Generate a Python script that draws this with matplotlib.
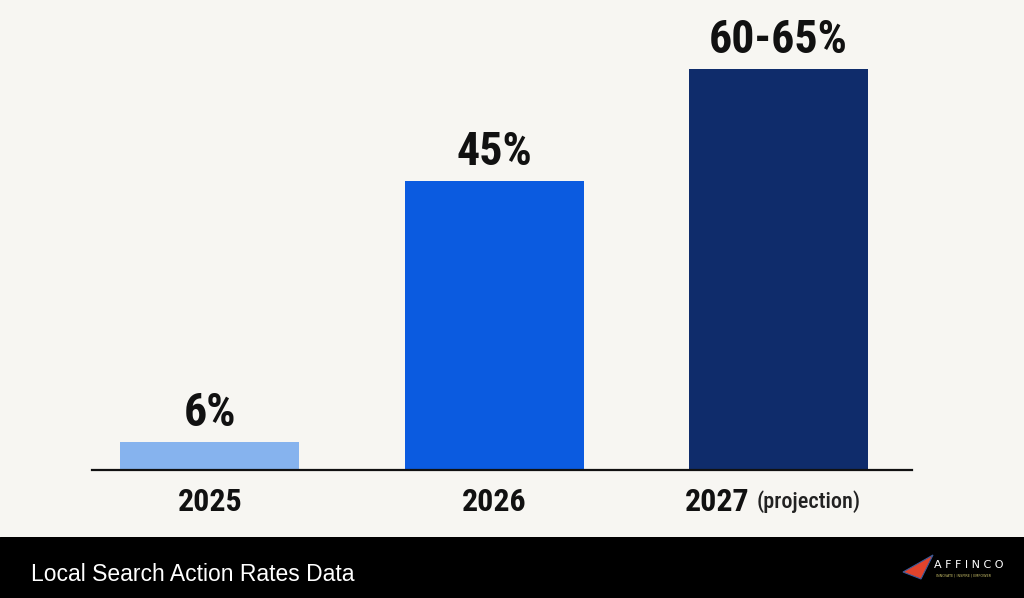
import matplotlib.pyplot as plt
from matplotlib.patches import Polygon

# data
years = ['2025', '2026', '2027']
heights = [4.4, 45, 62.5]          # bar heights as drawn (2025 bar is drawn short)
value_labels = ['6%', '45%', '60-65%']
bar_colors = ['#86b3ee', '#0b5be0', '#0f2c6b']
title = 'Local Search Action Rates Data'

bg = '#f7f6f2'
cond = ['Roboto Condensed', 'DejaVu Sans']

fig = plt.figure(figsize=(10.24, 5.98), dpi=100, facecolor=bg)

# main axes
ax = fig.add_axes([0.0898, 0.214, 0.8008, 0.786])
ax.set_facecolor(bg)
x = [0, 1, 2]
w = 0.63
bars = ax.bar(x, heights, width=w, color=bar_colors, zorder=2)
ax.set_xlim(-0.415, 2.47)
ax.set_ylim(0, 73.2)
for s in ['top', 'right', 'left']:
    ax.spines[s].set_visible(False)
ax.spines['bottom'].set_linewidth(1.6)
ax.spines['bottom'].set_color('#111111')
ax.set_yticks([])
ax.set_xticks([])

# value labels above bars
for b, lab in zip(bars, value_labels):
    ax.annotate(lab, (b.get_x() + b.get_width() / 2, b.get_height()),
                xytext=(0, 5), textcoords='offset points', ha='center', va='bottom',
                fontsize=33, fontweight='bold', family=cond, color='#111111')

# year labels under the baseline
for i, yr in enumerate(years):
    if i < 2:
        ax.annotate(yr, (x[i], 0), xytext=(0, -12), textcoords='offset points',
                    ha='center', va='top', fontsize=23, fontweight='bold',
                    family=cond, color='#111111')
    else:
        t = ax.annotate(yr, (x[i] - w / 2, 0), xytext=(-3, -12), textcoords='offset points',
                        ha='left', va='top', fontsize=23, fontweight='bold',
                        family=cond, color='#111111')
        ax.annotate('(projection)', xy=(1, 0.12), xycoords=t, xytext=(5, 0),
                    textcoords='offset points', ha='left', va='bottom',
                    fontsize=16, fontweight='medium', family=cond, color='#222222')

# bottom black band
band = fig.add_axes([0, 0, 1, 0.102])
band.set_facecolor('black')
band.set_xlim(0, 1024)
band.set_ylim(0, 61)
band.axis('off')
band.add_patch(plt.Rectangle((0, 0), 1024, 61, color='black'))
band.text(31, 24, title, color='white', fontsize=16.5, family='Liberation Sans',
          ha='left', va='center')

# little logo
band.add_patch(Polygon([[903, 26], [933, 43], [921, 19]], closed=True,
                       facecolor='#e0432c', edgecolor='#3a5a9a', lw=0.8))
band.text(934, 33, 'A F F I N C O', color='white', fontsize=8, family='DejaVu Sans',
          ha='left', va='center')
band.text(936, 23, 'INNOVATE | INSPIRE | EMPOWER', color='#c9c06a', fontsize=2.4,
          family='DejaVu Sans', ha='left', va='center')

fig.savefig('out.png', dpi=100, facecolor=bg)
